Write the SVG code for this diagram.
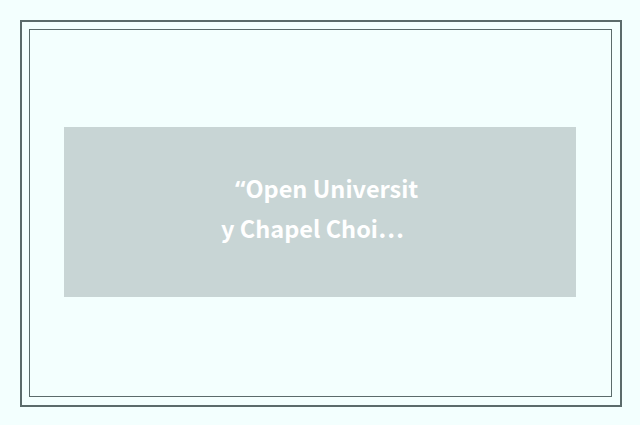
<svg xmlns="http://www.w3.org/2000/svg" width="640" height="425" viewBox="0 0 640 425">
<style>
.frame{fill:none;stroke:#5b6b6b}
.lbl{font-family:"Noto Sans CJK SC","Noto Sans",sans-serif;font-weight:bold;font-size:23.5px;fill:#ffffff}
.q{font-family:"Noto Sans",sans-serif}
</style>
<rect x="0" y="0" width="640" height="425" fill="#f3fffe"/>
<g id="frame">
<rect class="frame" x="21" y="21" width="600" height="385" stroke-width="2"/>
<rect class="frame" x="29.5" y="29.5" width="582" height="367" stroke-width="1"/>
</g>
<g id="node-title">
<rect x="64" y="127" width="512" height="170" fill="#c8d5d5"/>
<text class="lbl" x="235" y="198"><tspan class="q">“</tspan>Open Universit</text>
<text class="lbl" x="221" y="238">y Chapel Choi…</text>
</g>
<g id="connectors"></g>
</svg>
